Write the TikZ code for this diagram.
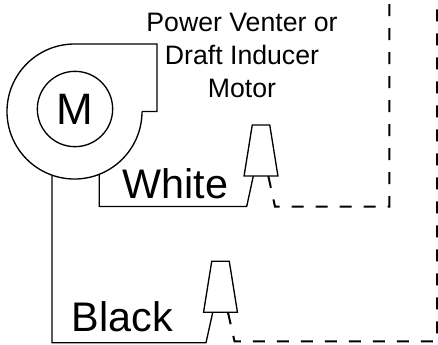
\documentclass[tikz,border=0pt]{standalone}
\usepackage{fontspec}
\setmainfont{Liberation Sans}
\usetikzlibrary{shapes.geometric}

\begin{document}
\begin{tikzpicture}
  [x=.75pt,y=-.75pt,
   wire/.style={line width=1pt},
   dashwire/.style={line width=1.5pt,dash pattern=on 9pt off 9pt},
   label/.style={inner sep=0pt,font=\fontsize{31}{31}\selectfont},
   plug/.style={draw,line width=1pt,trapezium,trapezium left angle=65,trapezium right angle=65,
     trapezium stretches=true,minimum width=25.4pt,minimum height=38.2pt,inner sep=1pt}]
  \useasboundingbox (0,0) rectangle (438,344);

  % blower housing
  \draw[wire] (142,111.5) -- (157,111.5) -- (157,44) -- (74.5,44)
    arc (90:360:50.625pt);

  \node (motor) [circle,draw,line width=1pt,minimum size=56.5pt,inner sep=0pt,
    font=\fontsize{33}{33}\selectfont] at (75,109) {M};

  \node (plugw) [plug] at (261,150.5) {};
  \node (plugb) [plug] at (220.5,286.7) {};

  \node (title) [inner sep=0pt,align=center,font=\fontsize{20}{24.75}\selectfont] at (242,55)
    {Power Venter or\\Draft Inducer\\Motor};
  \node (white) [label] at (175.5,183.5) {White};
  \node (black) [label] at (122.5,317) {Black};

  \coordinate (hw) at (99.3,174.5);
  \coordinate (hb) at (52,175);
  \coordinate (w1) at (99.3,206.5);
  \coordinate (w2) at (246.7,206.5);
  \coordinate (w3) at (253.3,176);
  \coordinate (b1) at (52,342.7);
  \coordinate (b2) at (206,342.7);
  \coordinate (b3) at (212.7,312.5);
  \coordinate (d1) at (268.3,176);
  \coordinate (d2) at (275,206.6);
  \coordinate (d3) at (389.3,206.6);
  \coordinate (d4) at (389.3,0);
  \coordinate (e1) at (228,312.5);
  \coordinate (e2) at (234.5,341.3);
  \coordinate (e3) at (437,341.3);
  \coordinate (e4) at (437,0);

  \draw[wire] (hw) -- (w1) -- (w2) -- (w3);
  \draw[wire] (hb) -- (b1) -- (b2) -- (b3);
  \draw[dashwire] (d1) -- (d2) -- (d3) -- (d4);
  \draw[dashwire] (e1) -- (e2) -- (e3) -- (e4);
\end{tikzpicture}
\end{document}
